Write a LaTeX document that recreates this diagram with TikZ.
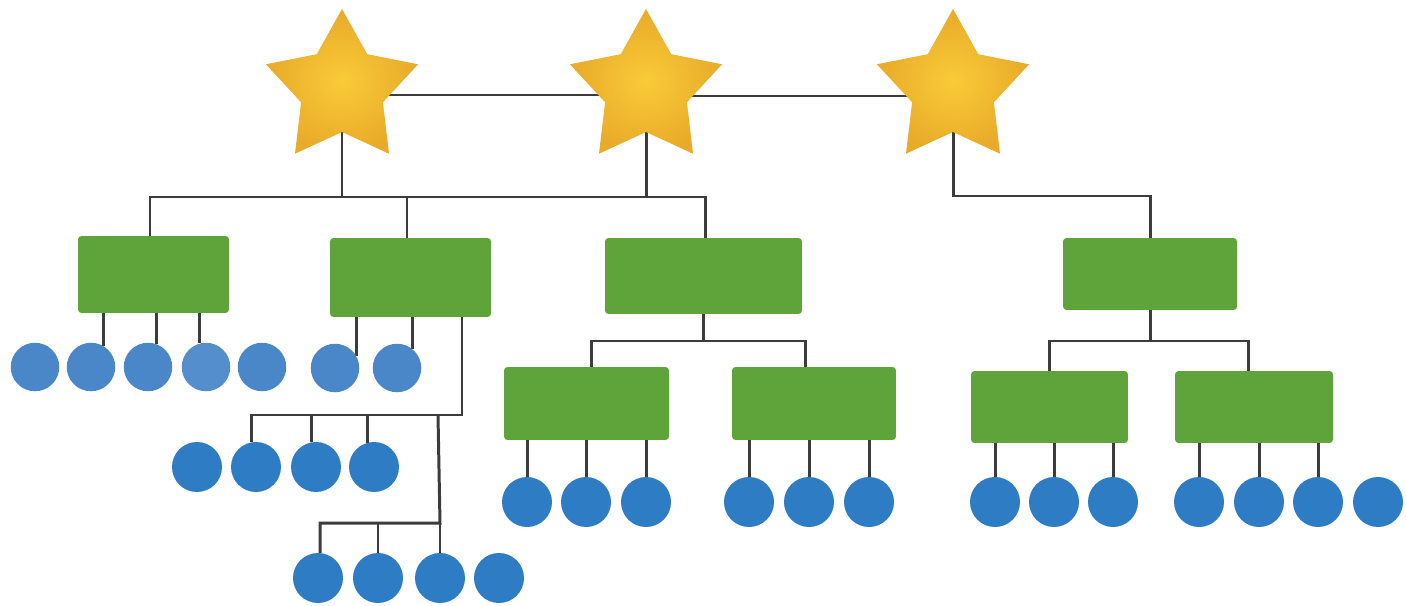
\documentclass[tikz,border=0pt]{standalone}
\usepackage{tikz}
\usetikzlibrary{shapes.geometric,backgrounds,calc}
\definecolor{stargold}{HTML}{F9CB38}
\definecolor{staredge}{HTML}{E8AA2A}
\definecolor{teamgreen}{HTML}{5FA33B}
\definecolor{memberblue}{HTML}{2E7CC4}
\definecolor{memberpale}{HTML}{4A87C9}
\definecolor{linkgray}{HTML}{3C3C3C}

\begin{document}
\begin{tikzpicture}[
        x=0.02cm, y=-0.02cm,
        leader/.style={star, star points=5, star point ratio=1.86, minimum size=3.2cm, inner sep=0pt,
            shading=radial, inner color=stargold, outer color=staredge},
        team/.style={fill=teamgreen, rounded corners=2pt, inner sep=0pt},
        member/.style={circle, fill=memberblue, minimum size=1cm, inner sep=0pt},
        upper/.style={member, fill=memberpale, minimum size=0.97cm},
        link/.style={draw=linkgray, line width=1.7pt}
    ]
        \useasboundingbox (0,0) rectangle (1406,605);

        % leaders
        \node[leader] (s1) at (342,89) {};
        \node[leader] (s2) at (646,89) {};
        \node[leader] (s3) at (953,89) {};

        % teams
        \node[team, minimum width=3.02cm, minimum height=1.54cm] (b1) at (153.5,274.5) {};
        \node[team, minimum width=3.22cm, minimum height=1.58cm] (b2) at (410.5,277.5) {};
        \node[team, minimum width=3.94cm, minimum height=1.52cm] (b3) at (703.5,276) {};
        \node[team, minimum width=3.48cm, minimum height=1.44cm] (b4) at (1150,274) {};
        \node[team, minimum width=3.30cm, minimum height=1.46cm] (b3a) at (586.5,403.5) {};
        \node[team, minimum width=3.28cm, minimum height=1.46cm] (b3b) at (814,403.5) {};
        \node[team, minimum width=3.14cm, minimum height=1.44cm] (b4a) at (1049.5,407) {};
        \node[team, minimum width=3.16cm, minimum height=1.44cm] (b4b) at (1254,407) {};

        % members
        \node[upper] (a1) at (35,367) {};
        \node[upper] (a2) at (91,367) {};
        \node[upper] (a3) at (148,367) {};
        \node[upper, fill=memberpale!94!white] (a4) at (206,367) {};
        \node[upper] (a5) at (262,367) {};
        \node[upper] (a6) at (335,368) {};
        \node[upper] (a7) at (397,368) {};
        \node[member] (d1) at (197,467) {};
        \node[member] (d2) at (256,467) {};
        \node[member] (d3) at (316,467) {};
        \node[member] (d4) at (374,467) {};
        \node[member] (e1) at (318,578) {};
        \node[member] (e2) at (378,578) {};
        \node[member] (e3) at (440,578) {};
        \node[member] (e4) at (499,578) {};
        \node[member] (f1) at (527,502) {};
        \node[member] (f2) at (586,502) {};
        \node[member] (f3) at (646,502) {};
        \node[member] (g1) at (749,502) {};
        \node[member] (g2) at (809,502) {};
        \node[member] (g3) at (869,502) {};
        \node[member] (h1) at (995,502) {};
        \node[member] (h2) at (1054,502) {};
        \node[member] (h3) at (1113,502) {};
        \node[member] (i1) at (1199,502) {};
        \node[member] (i2) at (1259,502) {};
        \node[member] (i3) at (1318,502) {};
        \node[member] (i4) at (1378,502) {};

        \coordinate (bus1) at (342,197);
        \coordinate (j3) at (953,196);
        \coordinate (j3ab) at (703.5,341);
        \coordinate (j4ab) at (1150,341);
        \coordinate (k1) at (462,415);
        \coordinate (k2) at (440,523);

        \begin{scope}[on background layer]
            % leader links
            \draw[link] ($(s1)+(0,6)$) -- ($(s2)+(0,6)$);
            \draw[link] ($(s2)+(0,7)$) -- ($(s3)+(0,7)$);
            \draw[link] (s1) -- (bus1);
            \draw[link] (s2) -- (s2 |- bus1);
            \draw[link] ([xshift=-0.07cm]b1.center) |- (bus1) -| ([xshift=0.03cm]b3.center);
            \draw[link] ([xshift=-0.07cm]b2.center) -- ([xshift=-0.07cm]b2.center |- bus1);
            \draw[link] (s3) -- (j3) -| (b4);
            % sub teams
            \draw[link] (b3) -- (j3ab);
            \draw[link] ([xshift=0.09cm]b3a.center) |- (j3ab) -| ([xshift=-0.18cm]b3b.center);
            \draw[link] (b4) -- (j4ab);
            \draw[link] (b4a) |- (j4ab) -| ([xshift=-0.12cm]b4b.center);
            % members of first teams
            \draw[link] (a2.60 |- b1) -- (a2.60);
            \draw[link] (a3.70 |- b1) -- (a3.70);
            \draw[link] (a4.105 |- b1) -- (a4.105);
            \draw[link] (a6.30 |- b2) -- (a6.30);
            \draw[link] (a7.50 |- b2) -- (a7.50);
            \draw[link] (k1 |- b2) -- (k1) -| (d2.100);
            \draw[link] (d3.100 |- k1) -- (d3.100);
            \draw[link] (d4.105 |- k1) -- (d4.105);
            \draw[link] (438,415) -- (k2) -| (e1.85);
            \draw[link] (e2 |- k2) -- (e2);
            \draw[link] (k2) -- (e3);
            % members of sub teams
            \draw[link] (f1 |- b3a) -- (f1);
            \draw[link] (f2 |- b3a) -- (f2);
            \draw[link] (f3 |- b3a) -- (f3);
            \draw[link] (g1 |- b3b) -- (g1);
            \draw[link] (g2 |- b3b) -- (g2);
            \draw[link] (g3 |- b3b) -- (g3);
            \draw[link] (h1 |- b4a) -- (h1);
            \draw[link] (h2 |- b4a) -- (h2);
            \draw[link] (h3 |- b4a) -- (h3);
            \draw[link] (i1 |- b4b) -- (i1);
            \draw[link] (i2 |- b4b) -- (i2);
            \draw[link] (i3 |- b4b) -- (i3);
        \end{scope}
    \end{tikzpicture}
\end{document}
